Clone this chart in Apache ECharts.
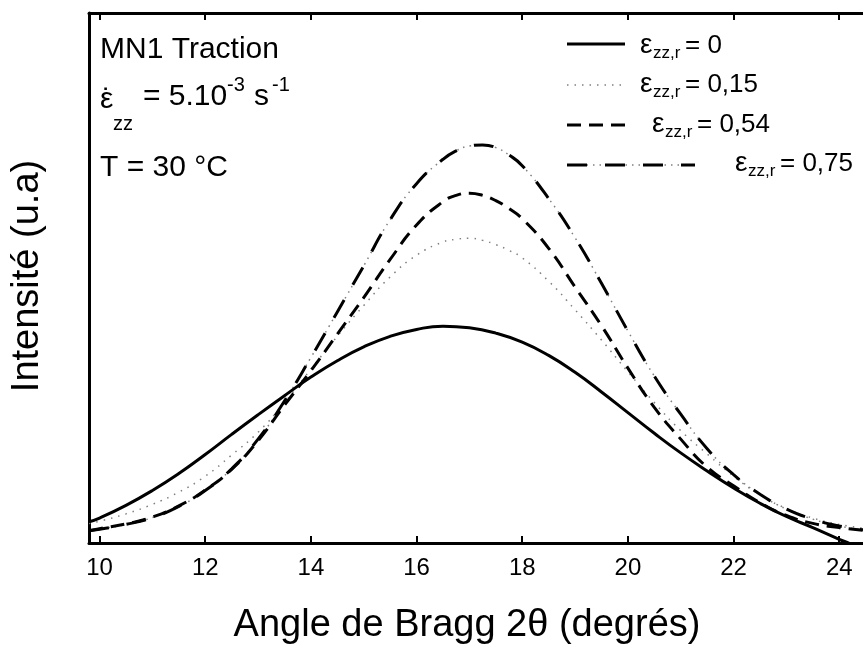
<!DOCTYPE html>
<html>
<head>
<meta charset="utf-8">
<script src="https://cdn.jsdelivr.net/npm/echarts@6/dist/echarts.min.js"></script>
<style>
html,body{margin:0;padding:0;background:#fff;}
#chart{width:863px;height:648px;}
</style>
</head>
<body>
<div id="chart"></div>
<script>
// ---- data ----
const xTicks = [10, 12, 14, 16, 18, 20, 22, 24];

// eps_zz,r = 0 (solid)
const xSolid = [9.8, 10.0, 10.5, 11.0, 11.5, 12.0, 12.5, 13.0, 13.5, 14.0, 14.5, 15.0, 15.5, 16.0, 16.5, 17.0,
  17.5, 18.0, 18.5, 19.0, 19.5, 20.0, 20.5, 21.0, 21.5, 22.0, 22.5, 23.0, 23.5, 24.0, 24.2, 24.45];
const ySolid = [4.0, 4.7, 7.1, 9.9, 13.1, 16.7, 20.5, 24.2, 27.8, 31.3, 34.4, 37.0, 39.0, 40.3, 40.9, 40.6,
  39.6, 37.9, 35.4, 32.2, 28.5, 24.6, 20.7, 17.0, 13.6, 10.4, 7.5, 5.0, 2.9, 0.7, -0.1, -1.2];

// x grid shared by the three other curves (finer around the peaks)
const xCurves = [9.8, 10.0, 10.5, 11.0, 11.5, 12.0, 12.5, 13.0, 13.5, 14.0, 14.5, 15.0, 15.5, 16.0, 16.5, 16.75,
  17.0, 17.25, 17.5, 17.75, 18.0, 18.5, 19.0, 19.5, 20.0, 20.5, 21.0, 21.5, 22.0, 22.5, 23.0, 23.5, 24.0, 24.45];
// eps_zz,r = 0,15 (dotted)
const yDot015 = [3.7, 4.1, 5.5, 7.3, 9.6, 12.6, 16.6, 20.9, 26.5, 32.8, 39.0, 44.8, 50.2, 54.3, 56.8, 57.3,
  57.5, 57.1, 56.3, 55.2, 53.8, 49.4, 44.0, 38.3, 32.3, 26.5, 21.2, 16.8, 12.6, 9.1, 6.5, 4.7, 3.5, 2.8];
// eps_zz,r = 0,54 (dashed)
const yDash054 = [2.3, 2.7, 3.6, 4.9, 7.0, 10.0, 13.9, 19.3, 26.0, 32.5, 39.4, 46.3, 53.5, 60.0, 64.4, 65.6,
  66.0, 65.6, 64.6, 63.1, 61.2, 55.6, 48.3, 41.0, 33.0, 25.6, 19.6, 14.3, 10.8, 7.6, 5.2, 3.7, 2.9, 2.4];
// eps_zz,r = 0,75 (dash-dot-dot)
const yDashDot075 = [2.3, 2.6, 3.5, 4.8, 6.9, 9.9, 14.0, 19.6, 26.8, 35.0, 43.6, 52.3, 61.0, 67.8, 72.4, 74.0,
  74.9, 75.1, 74.6, 73.2, 71.2, 65.0, 57.6, 49.0, 40.0, 31.5, 24.3, 17.8, 12.9, 9.2, 6.4, 4.5, 3.2, 2.5];

const legendValues = ['0', '0,15', '0,54', '0,75'];

// ---- build ----
const zip = (xs, ys) => xs.map((x, i) => [x, ys[i]]);
const FONT = '"Liberation Sans", Arial, Helvetica, sans-serif';
const chart = echarts.init(document.getElementById('chart'), null, {renderer: 'canvas'});

function txt(text, x, y, size, align) {
  align = align || 'left';
  return {
    type: 'text', x: x, y: y, z: 100,
    style: {
      text: text, x: 0, y: 0, fill: '#000',
      font: size + 'px ' + FONT,
      align: align, verticalAlign: 'middle',
      textAlign: align, textVerticalAlign: 'middle'
    }
  };
}
function seg(x1, y1, x2, y2, w, dash, color) {
  return {
    type: 'line', z: 100,
    shape: {x1: x1, y1: y1, x2: x2, y2: y2},
    style: {stroke: color || '#000', lineWidth: w, lineDash: dash || null}
  };
}

const legendRows = [
  {y: 46, eps: 640, eq: 685},
  {y: 85, eps: 640, eq: 685},
  {y: 125, eps: 652, eq: 697},
  {y: 164, eps: 735, eq: 780}
];

const graphics = [];
legendRows.forEach((r, i) => {
  graphics.push(txt('ε', r.eps, r.y - 1, 28));
  graphics.push(txt('zz,r', r.eps + 13, r.y + 7, 17));
  graphics.push(txt('= ' + legendValues[i], r.eq, r.y, 26));
});
graphics.push(seg(567, 44, 625, 44, 3));
graphics.push(seg(567, 85, 622, 85, 1.5, [1.5, 6], '#808080'));
graphics.push(seg(567, 125, 625, 125, 3, [14, 8]));
graphics.push(seg(567, 165, 695, 165, 1.5, [1.5, 5], '#808080'));
graphics.push(seg(567, 165, 695, 165, 3, [20, 18]));

// annotations
graphics.push(txt('MN1 Traction', 100, 50, 30));
graphics.push(txt('ε', 100, 100, 30));
graphics.push(txt('˙', 102, 101, 30));
graphics.push(txt('zz', 113, 124, 20));
graphics.push(txt('= 5.10', 143, 97, 30));
graphics.push(txt('-3', 227, 85, 20));
graphics.push(txt('s', 254, 97, 30));
graphics.push(txt('-1', 272, 85, 20));
graphics.push(txt('T = 30 °C', 100, 168, 30));

// axis titles
graphics.push(txt('Angle de Bragg 2θ (degrés)', 467, 626, 38, 'center'));
graphics.push({
  type: 'text', x: 28, y: 276, rotation: Math.PI / 2, z: 100,
  style: {text: 'Intensité (u.a)', x: 0, y: 0, fill: '#000', font: '38px ' + FONT,
    align: 'center', verticalAlign: 'middle', textAlign: 'center', textVerticalAlign: 'middle'}
});

const axisBase = {
  type: 'value', min: 9.8, max: 24.45,
  axisLine: {show: true, onZero: false, lineStyle: {color: '#000', width: 3}},
  splitLine: {show: false}
};

const lineSeries = (name, xs, ys, color, width, type, z) => ({
  name: name, type: 'line', data: zip(xs, ys), smooth: 0.5, showSymbol: false, symbol: 'none',
  lineStyle: {color: color, width: width, type: type}, z: z
});

const option = {
  animation: false,
  backgroundColor: '#fff',
  grid: {left: 89, top: 13, right: 0, bottom: 105, containLabel: false},
  xAxis: [
    Object.assign({}, axisBase, {
      position: 'bottom',
      axisTick: {show: true, inside: true, length: 7, lineStyle: {color: '#000', width: 2}, customValues: xTicks},
      axisLabel: {show: true, customValues: xTicks, color: '#000', fontSize: 24, fontFamily: FONT, margin: 13}
    }),
    Object.assign({}, axisBase, {
      position: 'top',
      axisTick: {show: true, inside: true, length: 7, lineStyle: {color: '#000', width: 2}, customValues: xTicks},
      axisLabel: {show: false}
    })
  ],
  yAxis: {
    type: 'value', min: 0, max: 100,
    axisLine: {show: true, lineStyle: {color: '#000', width: 3}},
    axisTick: {show: false}, axisLabel: {show: false}, splitLine: {show: false}
  },
  series: [
    lineSeries('εzz,r = 0,15', xCurves, yDot015, '#808080', 1.5, [1.5, 6], 2),
    lineSeries('εzz,r = 0,75 (dots)', xCurves, yDashDot075, '#808080', 1.5, [1.5, 5], 2),
    lineSeries('εzz,r = 0,54', xCurves, yDash054, '#000', 3, [14, 8], 3),
    lineSeries('εzz,r = 0,75', xCurves, yDashDot075, '#000', 3, [20, 18], 3),
    lineSeries('εzz,r = 0', xSolid, ySolid, '#000', 3, 'solid', 4)
  ],
  graphic: graphics
};
chart.setOption(option);
</script>
</body>
</html>
